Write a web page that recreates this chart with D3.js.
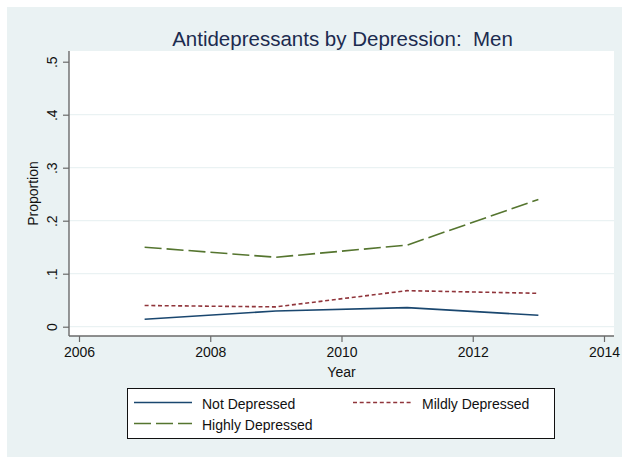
<!DOCTYPE html>
<html><head><meta charset="utf-8">
<script src="https://cdn.jsdelivr.net/npm/d3@7"></script>
<style>body{margin:0;background:#fff}svg{display:block}text{font-family:"Liberation Sans",Arial,Helvetica,sans-serif}</style>
</head><body><svg id="c" width="622" height="457"></svg>
<script>
const years = [2007, 2009, 2011, 2013];
const notDepressed = [0.014, 0.0296, 0.036, 0.0215];
const mildlyDepressed = [0.040, 0.0374, 0.068, 0.063];
const highlyDepressed = [0.150, 0.131, 0.154, 0.240];
const xTicks = [2006, 2008, 2010, 2012, 2014];
const yTicks = [0, 0.1, 0.2, 0.3, 0.4, 0.5];
const yTickLabels = ["0", ".1", ".2", ".3", ".4", ".5"];
const seriesNames = ["Not Depressed", "Mildly Depressed", "Highly Depressed"];

const svg = d3.select("#c");
svg.append("rect").attr("x",7).attr("y",7).attr("width",615).attr("height",450).attr("fill","#eaf2f3");

const L = 69, R = 614, T = 51, B = 336;
svg.append("rect").attr("x",L).attr("y",T).attr("width",R-L).attr("height",B-T).attr("fill","#fff");

const x = d3.scaleLinear().domain([2006, 2014]).range([79, 604]);
const y = d3.scaleLinear().domain([0, 0.5]).range([326.7, 61.7]);

// gridlines
svg.append("g").selectAll("line").data(yTicks.filter(v => v < 0.5)).join("line")
  .attr("x1", L).attr("x2", R).attr("y1", d => y(d)).attr("y2", d => y(d))
  .attr("stroke", "#eaf2f3").attr("stroke-width", 1.2);

// y axis
const yAxis = svg.append("g").attr("transform", `translate(${L},0)`)
  .call(d3.axisLeft(y).tickValues(yTicks).tickSize(6).tickFormat((d,i) => yTickLabels[i]));
yAxis.select(".domain").attr("d", `M0,${T}V${B}`).attr("stroke","#6a6a6a").attr("stroke-width",1.4);
yAxis.selectAll(".tick line").attr("stroke","#6a6a6a").attr("stroke-width",1.2);
yAxis.selectAll(".tick text").attr("x",null).attr("dy",null).attr("text-anchor","middle")
  .attr("transform","translate(-12.5,0) rotate(-90)").attr("font-size",14).attr("fill","#111");

// x axis
const xAxis = svg.append("g").attr("transform", `translate(0,${B})`)
  .call(d3.axisBottom(x).tickValues(xTicks).tickSize(6).tickFormat(d3.format("d")));
xAxis.select(".domain").attr("d", `M${L},0H${R}`).attr("stroke","#6a6a6a").attr("stroke-width",1.4);
xAxis.selectAll(".tick line").attr("stroke","#6a6a6a").attr("stroke-width",1.2);
xAxis.selectAll(".tick text").attr("y",20.7).attr("dy",null).attr("font-size",14).attr("fill","#111");
svg.selectAll("g").attr("font-family",null);

// titles
svg.append("text").attr("x", (L+R)/2 + 1).attr("y", 45.5).attr("text-anchor","middle")
  .style("white-space","pre").attr("xml:space","preserve")
  .attr("font-size", 20.5).attr("fill", "#1c2b4f").text("Antidepressants by Depression:  Men");
svg.append("text").attr("x", (L+R)/2).attr("y", 376.5).attr("text-anchor","middle")
  .attr("font-size", 14).attr("fill", "#111").text("Year");
svg.append("text").attr("transform", `translate(38,${(T+B)/2}) rotate(-90)`).attr("text-anchor","middle")
  .attr("font-size", 14).attr("fill", "#111").text("Proportion");

const styles = [
  {color:"#1a476f", dash:null},
  {color:"#90353b", dash:"4,2.7"},
  {color:"#55752f", dash:"17,5"}
];
const allSeries = [notDepressed, mildlyDepressed, highlyDepressed];
const line = d3.line().x((d,i) => x(years[i])).y(d => y(d));
allSeries.forEach((s, k) => {
  svg.append("path").datum(s).attr("d", line).attr("fill","none")
    .attr("stroke", styles[k].color).attr("stroke-width", 1.6)
    .attr("stroke-dasharray", styles[k].dash);
});

// legend
svg.append("rect").attr("x",127.5).attr("y",388.5).attr("width",427).attr("height",50)
  .attr("fill","#fff").attr("stroke","#111").attr("stroke-width",1);
const legPos = [{x1:134,x2:192,tx:202,y:404},{x1:353,x2:413,tx:422,y:404},{x1:134,x2:192,tx:202,y:425}];
seriesNames.forEach((n, k) => {
  const p = legPos[k];
  svg.append("line").attr("x1",p.x1).attr("x2",p.x2).attr("y1",p.y-1.5).attr("y2",p.y-1.5)
    .attr("stroke",styles[k].color).attr("stroke-width",1.6).attr("stroke-dasharray",styles[k].dash);
  svg.append("text").attr("x",p.tx).attr("y",p.y+5).attr("font-size",14).attr("fill","#111").text(n);
});
</script></body></html>
